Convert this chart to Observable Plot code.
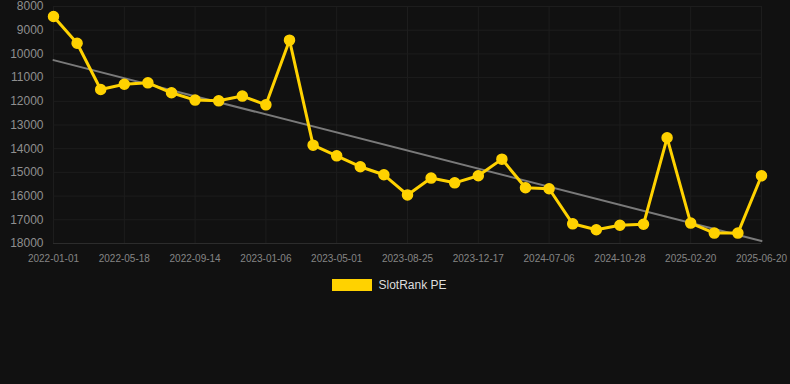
<!DOCTYPE html>
<html>
<head>
<meta charset="utf-8">
<script src="https://cdn.jsdelivr.net/npm/d3@7"></script>
<script src="https://cdn.jsdelivr.net/npm/@observablehq/plot@0.6"></script>
<style>
  html, body { margin: 0; padding: 0; background: #111111; }
  body { width: 790px; height: 384px; overflow: hidden; font-family: "Liberation Sans", Arial, sans-serif; }
  #legend { display: flex; justify-content: center; align-items: center; gap: 6px; margin-top: 8px; padding-right: 11px; color: #dddddd; font-size: 12px; }
  #legend .sw { width: 40px; height: 12px; background: #FFD200; }
</style>
</head>
<body>
<div id="chart"></div>
<div id="legend"><span class="sw"></span><span>SlotRank PE</span></div>
<script>
const tickLabels = ["2022-01-01","2022-05-18","2022-09-14","2023-01-06","2023-05-01","2023-08-25","2023-12-17","2024-07-06","2024-10-28","2025-02-20","2025-06-20"];
const rankValues = [8420, 9550, 11500, 11280, 11220, 11640, 11950, 11980, 11780, 12150,
                    9420, 13850, 14300, 14760, 15100, 15950, 15240, 15440, 15140, 14440,
                    15650, 15690, 17170, 17420, 17230, 17190, 13540, 17140, 17560, 17560, 15140];
const yTicks = [8000, 9000, 10000, 11000, 12000, 13000, 14000, 15000, 16000, 17000, 18000];

const data = rankValues.map((v, i) => ({i, v}));
const xTicks = tickLabels.map((_, k) => k * 3);

const chart = Plot.plot({
  width: 790,
  height: 270,
  marginLeft: 53,
  marginRight: 29,
  marginTop: 6,
  marginBottom: 27,
  style: {background: "#111111", fontFamily: "Liberation Sans, Arial, sans-serif"},
  x: {domain: [0, 30], ticks: xTicks, label: null},
  y: {domain: [8000, 18000], reverse: true, ticks: yTicks, label: null},
  marks: [
    Plot.gridX(xTicks, {stroke: "#1d1d1d", strokeOpacity: 1}),
    Plot.gridY(yTicks, {stroke: "#1d1d1d", strokeOpacity: 1}),
    Plot.ruleY([18000], {stroke: "#2c2c2c"}),
    Plot.axisY({ticks: yTicks, label: null, tickSize: 0, tickPadding: 10, fontSize: 12, fill: "#8f8f8f", tickFormat: d => String(d)}),
    Plot.axisX({ticks: xTicks, label: null, tickSize: 0, tickPadding: 11, fontSize: 10, fill: "#858585", tickFormat: d => tickLabels[d / 3]}),
    Plot.linearRegressionY(data, {x: "i", y: "v", ci: 0, stroke: "#7a7a7a", strokeWidth: 2}),
    Plot.line(data, {x: "i", y: "v", stroke: "#FFD200", strokeWidth: 3}),
    Plot.dot(data, {x: "i", y: "v", r: 5, fill: "#FFD200", stroke: "#FFD200"})
  ]
});
document.getElementById("chart").appendChild(chart);
</script>
</body>
</html>
